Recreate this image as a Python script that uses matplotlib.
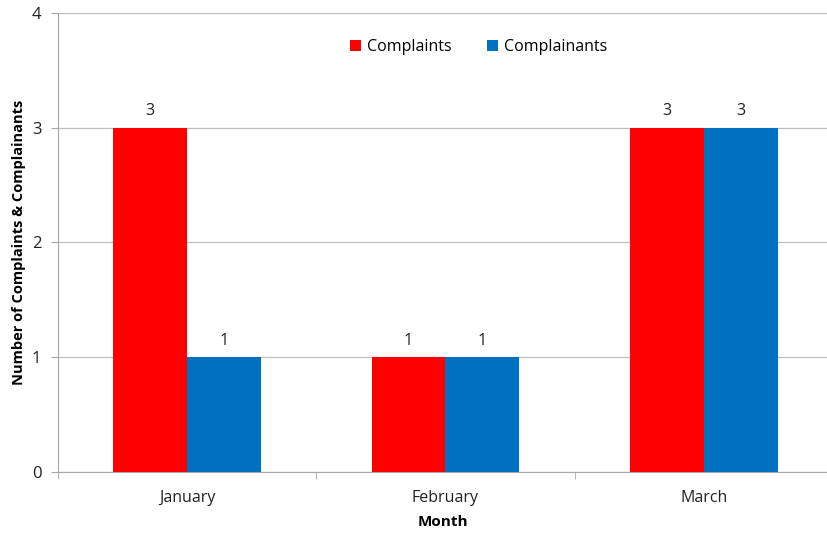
import numpy as np
import matplotlib.pyplot as plt

# data
months = ['January', 'February', 'March']
complaints = [3, 1, 3]
complainants = [1, 1, 3]

red = '#ff0000'
blue = '#0070c0'
grey = '#a6a6a6'

plt.rcParams['font.family'] = ['Open Sans', 'DejaVu Sans']

fig = plt.figure(figsize=(8.27, 5.34), dpi=100)
ax = fig.add_axes([0.0701, 0.1161, 0.9299, 0.8596])

x = np.arange(len(months))
w = 0.286
b1 = ax.bar(x - w / 2, complaints, w, color=red, label='Complaints', zorder=3)
b2 = ax.bar(x + w / 2, complainants, w, color=blue, label='Complainants', zorder=3)

for bars in (b1, b2):
    ax.bar_label(bars, padding=6, fontsize=11.5, color='#222222')

ax.set_ylim(0, 4)
ax.set_xlim(-0.5, 2.477)
ax.set_yticks([0, 1, 2, 3, 4])
ax.yaxis.grid(True, color='#bfbfbf', linewidth=0.9, zorder=0)

# category labels centered, ticks at category boundaries
ax.set_xticks(x)
ax.set_xticklabels(months, fontsize=11.5, color='#222222')
ax.tick_params(axis='x', length=0, pad=13)
ax.set_xticks([-0.5, 0.5, 1.5], minor=True)
ax.tick_params(axis='x', which='minor', length=5, color=grey)
ax.tick_params(axis='y', length=5, color=grey, labelsize=12, labelcolor='#222222', pad=7)

for s in ['top', 'right']:
    ax.spines[s].set_visible(False)
ax.spines['left'].set_color(grey)
ax.spines['bottom'].set_color(grey)

ax.set_xlabel('Month', fontsize=11, fontweight='bold')
ax.xaxis.set_label_coords(0.5, -0.093)
ax.set_ylabel('Number of Complaints & Complainants', fontsize=10.5, fontweight='bold')
ax.yaxis.set_label_coords(-0.042, 0.5)

ax.legend(loc='center', bbox_to_anchor=(0.547, 0.926), ncol=2, frameon=False,
          handlelength=0.7, handleheight=0.7, handletextpad=0.4, columnspacing=2.2,
          fontsize=11.5)

fig.savefig('out.png', dpi=100)
